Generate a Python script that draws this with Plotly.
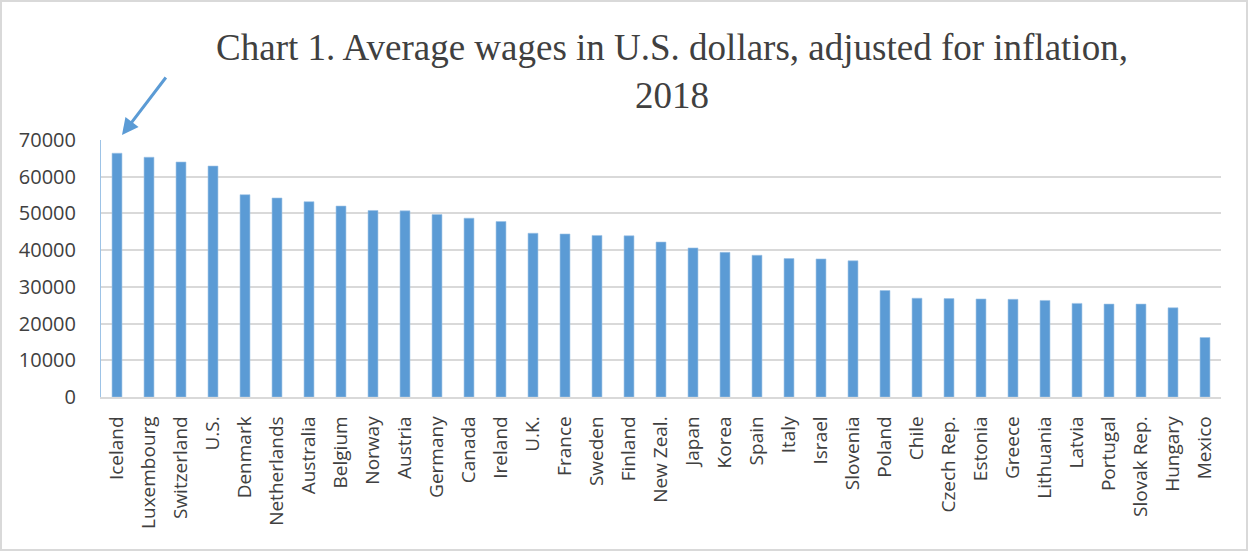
import plotly.graph_objects as go

countries = ["Iceland", "Luxembourg", "Switzerland", "U.S.", "Denmark", "Netherlands",
             "Australia", "Belgium", "Norway", "Austria", "Germany", "Canada", "Ireland",
             "U.K.", "France", "Sweden", "Finland", "New Zeal.", "Japan", "Korea", "Spain",
             "Italy", "Israel", "Slovenia", "Poland", "Chile", "Czech Rep.", "Estonia",
             "Greece", "Lithuania", "Latvia", "Portugal", "Slovak Rep.", "Hungary", "Mexico"]
wages = [66400, 65300, 64000, 62900, 55100, 54200, 53200, 52000, 50800, 50700, 49700,
         48700, 47800, 44600, 44400, 44000, 43900, 42200, 40600, 39400, 38600, 37700,
         37600, 37100, 29000, 26900, 26800, 26700, 26600, 26300, 25500, 25300, 25300,
         24300, 16200]
y_ticks = [0, 10000, 20000, 30000, 40000, 50000, 60000, 70000]

BLUE = "#5B9BD5"
GRID = "#D9D9D9"

fig = go.Figure(go.Bar(
    x=countries, y=wages,
    marker=dict(color=BLUE, line=dict(color="#9DC3E6", width=0.6)),
))

L, R, T, B = 101, 28, 140, 155
W, H = 1249, 552
pw = W - L - R
ph = H - T - B

def px_to_paper_x(px):
    return (px - L) / pw

def py_to_paper_y(py):
    return (H - B - py) / ph

fig.update_layout(
    width=W, height=H,
    margin=dict(l=L, r=R, t=T, b=B),
    paper_bgcolor="white", plot_bgcolor="white",
    bargap=0.69,
    showlegend=False,
    title=dict(
        text="Chart 1. Average wages in U.S. dollars, adjusted for inflation,<br>2018",
        x=672 / W, xref="container", xanchor="center",
        y=1 - 60 / H, yref="container", yanchor="top",
        font=dict(family="Liberation Serif", size=37, color="#404040"),
    ),
    xaxis=dict(
        type="category",
        tickangle=-90,
        tickfont=dict(family="Open Sans", size=19, color="#404040"),
        showgrid=False,
        showline=True, linecolor=GRID, linewidth=1.5,
        ticks="", ticklabelstandoff=10,
    ),
    yaxis=dict(
        range=[0, 70000],
        tickvals=y_ticks,
        ticktext=[str(v) for v in y_ticks],
        tickfont=dict(family="Open Sans", size=20, color="#404040"),
        showgrid=True, gridcolor=GRID, gridwidth=1.5,
        zeroline=False,
        showline=True, linecolor="#9DC3E6", linewidth=1,
        ticks="", ticklabelstandoff=20,
    ),
    shapes=[dict(
        type="rect", xref="paper", yref="paper",
        x0=px_to_paper_x(1), x1=px_to_paper_x(1247),
        y0=py_to_paper_y(550), y1=py_to_paper_y(1),
        line=dict(color=GRID, width=2), fillcolor="rgba(0,0,0,0)", layer="below",
    )],
    annotations=[dict(
        xref="paper", yref="paper",
        x=px_to_paper_x(122), y=py_to_paper_y(135),
        axref="pixel", ayref="pixel", ax=45, ay=-59,
        showarrow=True, arrowhead=2, arrowsize=1.1, arrowwidth=3,
        arrowcolor=BLUE, text="", standoff=0,
    )],
)

fig.write_html("out.html")
